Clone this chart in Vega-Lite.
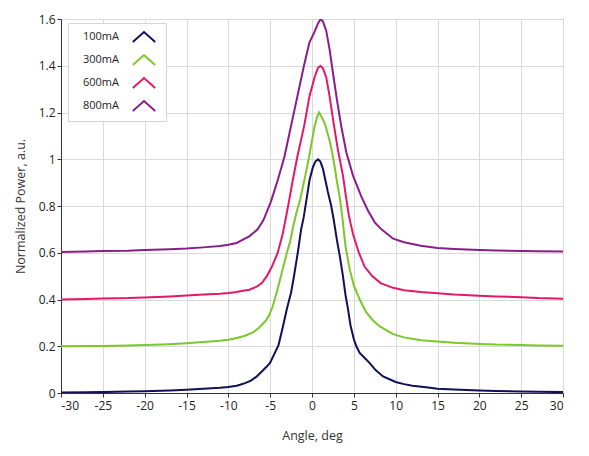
{
  "$schema": "https://vega.github.io/schema/vega-lite/v6.json",
  "width": 502,
  "height": 374,
  "autosize": {"type": "none"},
  "padding": {"left": 61, "top": 19, "right": 26, "bottom": 63},
  "background": "white",
  "datasets": {
    "curves": [
      {"current": "100mA", "angle": -30, "power": 0.002},
      {"current": "100mA", "angle": -27, "power": 0.003},
      {"current": "100mA", "angle": -25, "power": 0.004},
      {"current": "100mA", "angle": -22, "power": 0.006},
      {"current": "100mA", "angle": -20, "power": 0.008},
      {"current": "100mA", "angle": -17, "power": 0.011},
      {"current": "100mA", "angle": -15, "power": 0.014},
      {"current": "100mA", "angle": -13, "power": 0.018},
      {"current": "100mA", "angle": -11, "power": 0.022},
      {"current": "100mA", "angle": -10, "power": 0.026},
      {"current": "100mA", "angle": -9, "power": 0.031},
      {"current": "100mA", "angle": -8.6, "power": 0.035},
      {"current": "100mA", "angle": -8, "power": 0.042},
      {"current": "100mA", "angle": -7.3, "power": 0.053},
      {"current": "100mA", "angle": -6.6, "power": 0.071},
      {"current": "100mA", "angle": -6, "power": 0.092},
      {"current": "100mA", "angle": -5.4, "power": 0.113},
      {"current": "100mA", "angle": -5, "power": 0.13},
      {"current": "100mA", "angle": -4.6, "power": 0.16},
      {"current": "100mA", "angle": -4, "power": 0.205},
      {"current": "100mA", "angle": -3.5, "power": 0.28},
      {"current": "100mA", "angle": -3, "power": 0.36},
      {"current": "100mA", "angle": -2.5, "power": 0.43},
      {"current": "100mA", "angle": -2.2, "power": 0.49},
      {"current": "100mA", "angle": -1.7, "power": 0.6},
      {"current": "100mA", "angle": -1.3, "power": 0.7},
      {"current": "100mA", "angle": -1, "power": 0.75},
      {"current": "100mA", "angle": -0.6, "power": 0.84},
      {"current": "100mA", "angle": -0.3, "power": 0.91},
      {"current": "100mA", "angle": 0.1, "power": 0.965},
      {"current": "100mA", "angle": 0.4, "power": 0.99},
      {"current": "100mA", "angle": 0.72, "power": 1.0},
      {"current": "100mA", "angle": 1.0, "power": 0.99},
      {"current": "100mA", "angle": 1.3, "power": 0.96},
      {"current": "100mA", "angle": 1.6, "power": 0.91},
      {"current": "100mA", "angle": 1.9, "power": 0.86},
      {"current": "100mA", "angle": 2.3, "power": 0.8},
      {"current": "100mA", "angle": 2.6, "power": 0.74},
      {"current": "100mA", "angle": 3.0, "power": 0.65},
      {"current": "100mA", "angle": 3.3, "power": 0.59},
      {"current": "100mA", "angle": 3.7, "power": 0.5},
      {"current": "100mA", "angle": 4.0, "power": 0.42},
      {"current": "100mA", "angle": 4.3, "power": 0.36},
      {"current": "100mA", "angle": 4.6, "power": 0.29},
      {"current": "100mA", "angle": 5.0, "power": 0.23},
      {"current": "100mA", "angle": 5.3, "power": 0.2},
      {"current": "100mA", "angle": 5.7, "power": 0.171},
      {"current": "100mA", "angle": 6.3, "power": 0.15},
      {"current": "100mA", "angle": 6.9, "power": 0.128},
      {"current": "100mA", "angle": 7.6, "power": 0.098},
      {"current": "100mA", "angle": 8.5, "power": 0.071},
      {"current": "100mA", "angle": 10, "power": 0.047},
      {"current": "100mA", "angle": 11, "power": 0.038},
      {"current": "100mA", "angle": 12, "power": 0.031},
      {"current": "100mA", "angle": 13.9, "power": 0.024},
      {"current": "100mA", "angle": 15, "power": 0.018},
      {"current": "100mA", "angle": 17, "power": 0.015},
      {"current": "100mA", "angle": 20, "power": 0.011},
      {"current": "100mA", "angle": 22, "power": 0.009},
      {"current": "100mA", "angle": 25, "power": 0.006},
      {"current": "100mA", "angle": 27, "power": 0.005},
      {"current": "100mA", "angle": 30, "power": 0.004},

      {"current": "300mA", "angle": -30, "power": 0.2},
      {"current": "300mA", "angle": -27, "power": 0.201},
      {"current": "300mA", "angle": -25, "power": 0.201},
      {"current": "300mA", "angle": -22, "power": 0.203},
      {"current": "300mA", "angle": -20, "power": 0.205},
      {"current": "300mA", "angle": -17, "power": 0.209},
      {"current": "300mA", "angle": -15, "power": 0.213},
      {"current": "300mA", "angle": -13, "power": 0.218},
      {"current": "300mA", "angle": -11, "power": 0.224},
      {"current": "300mA", "angle": -10, "power": 0.228},
      {"current": "300mA", "angle": -9, "power": 0.235},
      {"current": "300mA", "angle": -8, "power": 0.245},
      {"current": "300mA", "angle": -7, "power": 0.26},
      {"current": "300mA", "angle": -6.3, "power": 0.28},
      {"current": "300mA", "angle": -5.5, "power": 0.31},
      {"current": "300mA", "angle": -5.1, "power": 0.335},
      {"current": "300mA", "angle": -4.7, "power": 0.37},
      {"current": "300mA", "angle": -4.3, "power": 0.42},
      {"current": "300mA", "angle": -4.0, "power": 0.46},
      {"current": "300mA", "angle": -3.5, "power": 0.53},
      {"current": "300mA", "angle": -3.0, "power": 0.6},
      {"current": "300mA", "angle": -2.6, "power": 0.65},
      {"current": "300mA", "angle": -2.2, "power": 0.72},
      {"current": "300mA", "angle": -1.8, "power": 0.78},
      {"current": "300mA", "angle": -1.4, "power": 0.83},
      {"current": "300mA", "angle": -1.1, "power": 0.88},
      {"current": "300mA", "angle": -0.8, "power": 0.93},
      {"current": "300mA", "angle": -0.4, "power": 1.0},
      {"current": "300mA", "angle": -0.1, "power": 1.06},
      {"current": "300mA", "angle": 0.3, "power": 1.14},
      {"current": "300mA", "angle": 0.6, "power": 1.18},
      {"current": "300mA", "angle": 0.84, "power": 1.2},
      {"current": "300mA", "angle": 1.1, "power": 1.185},
      {"current": "300mA", "angle": 1.5, "power": 1.155},
      {"current": "300mA", "angle": 1.8, "power": 1.12},
      {"current": "300mA", "angle": 2.1, "power": 1.08},
      {"current": "300mA", "angle": 2.4, "power": 1.03},
      {"current": "300mA", "angle": 2.7, "power": 0.97},
      {"current": "300mA", "angle": 3.0, "power": 0.9},
      {"current": "300mA", "angle": 3.3, "power": 0.84},
      {"current": "300mA", "angle": 3.6, "power": 0.76},
      {"current": "300mA", "angle": 4.0, "power": 0.63},
      {"current": "300mA", "angle": 4.5, "power": 0.53},
      {"current": "300mA", "angle": 5.0, "power": 0.46},
      {"current": "300mA", "angle": 5.7, "power": 0.4},
      {"current": "300mA", "angle": 6.5, "power": 0.345},
      {"current": "300mA", "angle": 7.3, "power": 0.31},
      {"current": "300mA", "angle": 8.1, "power": 0.285},
      {"current": "300mA", "angle": 9.7, "power": 0.252},
      {"current": "300mA", "angle": 11, "power": 0.238},
      {"current": "300mA", "angle": 13, "power": 0.226},
      {"current": "300mA", "angle": 15, "power": 0.22},
      {"current": "300mA", "angle": 17, "power": 0.215},
      {"current": "300mA", "angle": 20, "power": 0.21},
      {"current": "300mA", "angle": 22, "power": 0.207},
      {"current": "300mA", "angle": 25, "power": 0.205},
      {"current": "300mA", "angle": 27, "power": 0.203},
      {"current": "300mA", "angle": 30, "power": 0.202},

      {"current": "600mA", "angle": -30, "power": 0.4},
      {"current": "600mA", "angle": -27, "power": 0.402},
      {"current": "600mA", "angle": -25, "power": 0.404},
      {"current": "600mA", "angle": -22, "power": 0.406},
      {"current": "600mA", "angle": -20, "power": 0.409},
      {"current": "600mA", "angle": -17, "power": 0.413},
      {"current": "600mA", "angle": -15, "power": 0.417},
      {"current": "600mA", "angle": -13, "power": 0.421},
      {"current": "600mA", "angle": -11, "power": 0.425},
      {"current": "600mA", "angle": -10, "power": 0.428},
      {"current": "600mA", "angle": -9, "power": 0.432},
      {"current": "600mA", "angle": -8.6, "power": 0.435},
      {"current": "600mA", "angle": -7.5, "power": 0.442},
      {"current": "600mA", "angle": -6.6, "power": 0.455},
      {"current": "600mA", "angle": -6, "power": 0.47},
      {"current": "600mA", "angle": -5.4, "power": 0.5},
      {"current": "600mA", "angle": -4.8, "power": 0.54},
      {"current": "600mA", "angle": -4.1, "power": 0.6},
      {"current": "600mA", "angle": -3.5, "power": 0.68},
      {"current": "600mA", "angle": -2.8, "power": 0.81},
      {"current": "600mA", "angle": -2.3, "power": 0.91},
      {"current": "600mA", "angle": -1.7, "power": 1.02},
      {"current": "600mA", "angle": -1.2, "power": 1.1},
      {"current": "600mA", "angle": -0.9, "power": 1.15},
      {"current": "600mA", "angle": -0.3, "power": 1.27},
      {"current": "600mA", "angle": 0.3, "power": 1.35},
      {"current": "600mA", "angle": 0.7, "power": 1.39},
      {"current": "600mA", "angle": 1.0, "power": 1.4},
      {"current": "600mA", "angle": 1.3, "power": 1.39},
      {"current": "600mA", "angle": 1.7, "power": 1.35},
      {"current": "600mA", "angle": 2.1, "power": 1.27},
      {"current": "600mA", "angle": 2.6, "power": 1.15},
      {"current": "600mA", "angle": 3.1, "power": 1.04},
      {"current": "600mA", "angle": 3.7, "power": 0.93},
      {"current": "600mA", "angle": 4.1, "power": 0.83},
      {"current": "600mA", "angle": 4.4, "power": 0.76},
      {"current": "600mA", "angle": 4.9, "power": 0.68},
      {"current": "600mA", "angle": 5.6, "power": 0.6},
      {"current": "600mA", "angle": 6.3, "power": 0.54},
      {"current": "600mA", "angle": 7.2, "power": 0.5},
      {"current": "600mA", "angle": 8.2, "power": 0.47},
      {"current": "600mA", "angle": 9.7, "power": 0.45},
      {"current": "600mA", "angle": 11, "power": 0.44},
      {"current": "600mA", "angle": 13, "power": 0.432},
      {"current": "600mA", "angle": 15, "power": 0.427},
      {"current": "600mA", "angle": 17, "power": 0.421},
      {"current": "600mA", "angle": 20, "power": 0.416},
      {"current": "600mA", "angle": 22, "power": 0.413},
      {"current": "600mA", "angle": 25, "power": 0.41},
      {"current": "600mA", "angle": 27, "power": 0.406},
      {"current": "600mA", "angle": 30, "power": 0.403},

      {"current": "800mA", "angle": -30, "power": 0.603},
      {"current": "800mA", "angle": -27, "power": 0.605},
      {"current": "800mA", "angle": -25, "power": 0.607},
      {"current": "800mA", "angle": -22, "power": 0.609},
      {"current": "800mA", "angle": -20, "power": 0.612},
      {"current": "800mA", "angle": -17, "power": 0.615},
      {"current": "800mA", "angle": -15, "power": 0.618},
      {"current": "800mA", "angle": -13, "power": 0.623},
      {"current": "800mA", "angle": -11, "power": 0.629},
      {"current": "800mA", "angle": -10, "power": 0.634},
      {"current": "800mA", "angle": -9, "power": 0.642},
      {"current": "800mA", "angle": -8.6, "power": 0.65},
      {"current": "800mA", "angle": -7.5, "power": 0.67},
      {"current": "800mA", "angle": -6.5, "power": 0.7},
      {"current": "800mA", "angle": -5.8, "power": 0.74},
      {"current": "800mA", "angle": -4.9, "power": 0.82},
      {"current": "800mA", "angle": -4.1, "power": 0.91},
      {"current": "800mA", "angle": -3.3, "power": 1.01},
      {"current": "800mA", "angle": -2.7, "power": 1.11},
      {"current": "800mA", "angle": -2.1, "power": 1.21},
      {"current": "800mA", "angle": -1.5, "power": 1.31},
      {"current": "800mA", "angle": -0.9, "power": 1.41},
      {"current": "800mA", "angle": -0.3, "power": 1.5},
      {"current": "800mA", "angle": 0.3, "power": 1.545},
      {"current": "800mA", "angle": 0.7, "power": 1.58},
      {"current": "800mA", "angle": 1.04, "power": 1.6},
      {"current": "800mA", "angle": 1.3, "power": 1.59},
      {"current": "800mA", "angle": 1.7, "power": 1.55},
      {"current": "800mA", "angle": 2.1, "power": 1.47},
      {"current": "800mA", "angle": 2.5, "power": 1.37},
      {"current": "800mA", "angle": 3.0, "power": 1.25},
      {"current": "800mA", "angle": 3.5, "power": 1.14},
      {"current": "800mA", "angle": 4.1, "power": 1.03},
      {"current": "800mA", "angle": 4.9, "power": 0.93},
      {"current": "800mA", "angle": 5.9, "power": 0.84},
      {"current": "800mA", "angle": 6.7, "power": 0.78},
      {"current": "800mA", "angle": 7.5, "power": 0.73},
      {"current": "800mA", "angle": 8.3, "power": 0.7},
      {"current": "800mA", "angle": 9.7, "power": 0.66},
      {"current": "800mA", "angle": 11, "power": 0.645},
      {"current": "800mA", "angle": 13, "power": 0.63},
      {"current": "800mA", "angle": 15, "power": 0.62},
      {"current": "800mA", "angle": 17, "power": 0.616},
      {"current": "800mA", "angle": 20, "power": 0.612},
      {"current": "800mA", "angle": 22, "power": 0.61},
      {"current": "800mA", "angle": 25, "power": 0.608},
      {"current": "800mA", "angle": 27, "power": 0.606},
      {"current": "800mA", "angle": 30, "power": 0.605}
    ]
  },
  "data": {"name": "curves"},
  "mark": {"type": "line", "strokeWidth": 2, "clip": true},
  "encoding": {
    "x": {
      "field": "angle",
      "type": "quantitative",
      "scale": {"domain": [-30, 30], "nice": false},
      "axis": {
        "title": "Angle, deg",
        "values": [-30, -25, -20, -15, -10, -5, 0, 5, 10, 15, 20, 25, 30],
        "labelExpr": "'' + datum.value"
      }
    },
    "y": {
      "field": "power",
      "type": "quantitative",
      "scale": {"domain": [0, 1.6], "nice": false},
      "axis": {
        "title": "Normalized Power, a.u.",
        "values": [0, 0.2, 0.4, 0.6, 0.8, 1, 1.2, 1.4, 1.6],
        "format": "~g"
      }
    },
    "color": {
      "field": "current",
      "type": "nominal",
      "scale": {
        "domain": ["100mA", "300mA", "600mA", "800mA"],
        "range": ["#10105a", "#7cc72a", "#e2196b", "#8a1c8c"]
      },
      "legend": {
        "title": null,
        "orient": "none",
        "legendX": 7,
        "legendY": 4,
        "symbolType": "M-1.6,0.7L0,-0.7L1.6,0.7",
        "symbolSize": 196,
        "symbolStrokeWidth": 2,
        "symbolOffset": 62,
        "labelOffset": -69,
        "labelFont": "Open Sans",
        "labelFontSize": 11,
        "labelColor": "#222",
        "rowPadding": 5,
        "padding": 6,
        "fillColor": "white",
        "strokeColor": "#d4d4d4"
      }
    }
  },
  "config": {
    "view": {"stroke": "#333", "strokeWidth": 1},
    "axis": {
      "labelFont": "Open Sans",
      "labelFontSize": 12,
      "labelColor": "#222",
      "titleFont": "Open Sans",
      "titleFontSize": 12.5,
      "titleFontWeight": "normal",
      "titleColor": "#333",
      "domainColor": "#333",
      "tickColor": "#333",
      "tickSize": 4,
      "gridColor": "#d9d9d9",
      "gridOpacity": 1
    },
    "axisX": {"labelPadding": 3, "titlePadding": 18},
    "axisY": {"labelPadding": 2, "titlePadding": 11}
  }
}
